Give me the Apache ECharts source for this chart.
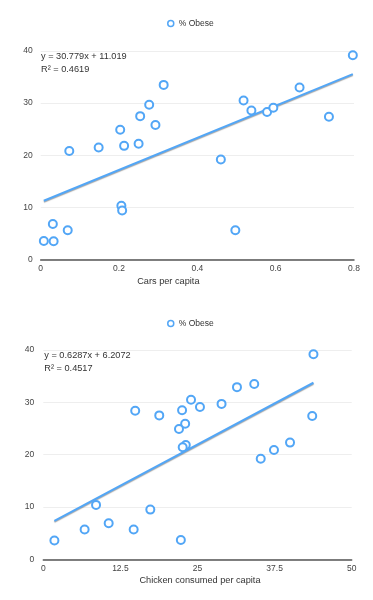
<!DOCTYPE html>
<html>
<head>
<meta charset="utf-8">
<script src="https://cdn.jsdelivr.net/npm/echarts@6/dist/echarts.min.js"></script>
<style>
html,body{margin:0;padding:0;background:#fff;}
#chart{width:373px;height:600px;}
</style>
</head>
<body>
<div id="chart"></div>
<script>
// ---- Data ----
var seriesName = '% Obese';
var carsPerCapita = [0.797,0.314,0.518,0.538,0.578,0.594,0.661,0.736,0.277,0.254,0.293,0.203,0.213,0.250,0.148,0.073,0.460,0.206,0.208,0.031,0.069,0.008,0.033,0.497];
var obeseCars =     [39.2, 33.5, 30.5, 28.6, 28.3, 29.1, 33.0, 27.4, 29.7, 27.5, 25.8, 24.9, 21.8, 22.2, 21.5, 20.8, 19.2, 10.3, 9.4, 6.8, 5.6, 3.55, 3.5, 5.6];
var chickenPerCapita = [43.8,34.2,31.4,28.9,25.4,23.95,22.5,23.0,22.0,14.9,18.8,43.6,40.0,37.4,35.25,23.1,22.6,8.55,17.35,10.6,6.7,14.65,1.8,22.3];
var obeseChicken =     [39.2,33.5,32.9,29.7,29.1,30.5,28.5,25.9,24.9,28.4,27.5,27.4,22.3,20.9,19.2,21.85,21.4,10.4,9.5,6.9,5.7,5.7,3.6,3.7];
var trendCars = [[0.008, 11.27], [0.797, 35.55]];
var trendChicken = [[1.8, 7.34], [43.8, 33.74]];
var eqCars = ['y = 30.779x + 11.019', 'R\u00b2 = 0.4619'];
var eqChicken = ['y = 0.6287x + 6.2072', 'R\u00b2 = 0.4517'];
var xNameCars = 'Cars per capita';
var xNameChicken = 'Chicken consumed per capita';
var yTicks = {min: 0, max: 40, interval: 10};
var xTicksCars = {min: 0, max: 0.8, interval: 0.2};
var xTicksChicken = {min: 0, max: 50, interval: 12.5};

function zip(a, b) { return a.map(function (v, i) { return [v, b[i]]; }); }

var blue = '#52a6f6';
var font = 'Liberation Sans, Arial, sans-serif';

function xAxis(idx, t, name, pad) {
  return {
    type: 'value', gridIndex: idx, min: t.min, max: t.max, interval: t.interval,
    name: name, nameLocation: 'middle', nameGap: 17,
    nameTextStyle: {fontSize: 9.2, color: '#333', fontFamily: font, padding: pad},
    axisLine: {show: true, lineStyle: {color: '#555', width: 1.5}},
    axisTick: {show: false},
    splitLine: {show: false},
    axisLabel: {fontSize: 8.5, color: '#444', fontFamily: font, margin: 5,
      formatter: function (v) { return String(v); }}
  };
}
function yAxis(idx, margin) {
  return {
    type: 'value', gridIndex: idx, min: yTicks.min, max: yTicks.max, interval: yTicks.interval,
    axisLine: {show: false}, axisTick: {show: false},
    splitLine: {show: true, lineStyle: {color: '#eeeeee', width: 1}},
    axisLabel: {fontSize: 8.5, color: '#444', fontFamily: font, margin: margin}
  };
}
function scatter(idx, data) {
  return {
    name: seriesName, type: 'scatter', xAxisIndex: idx, yAxisIndex: idx,
    data: data, symbol: 'circle', symbolSize: 8,
    itemStyle: {color: '#fff', borderColor: blue, borderWidth: 2, opacity: 1},
    z: 3
  };
}
function trend(idx, data) {
  return {
    name: 'trend' + idx, type: 'line', xAxisIndex: idx, yAxisIndex: idx,
    data: data, showSymbol: false, symbol: 'none', silent: true,
    lineStyle: {color: blue, width: 2, shadowColor: 'rgba(0,0,0,0.35)', shadowBlur: 1, shadowOffsetY: 1},
    z: 2
  };
}
function legend(top) {
  return {
    top: top, left: 167, padding: 0, data: [seriesName], icon: 'circle',
    itemWidth: 6, itemHeight: 6,
    itemStyle: {color: '#fff', borderColor: blue, borderWidth: 1.5},
    textStyle: {fontSize: 8.5, color: '#333', fontFamily: font},
    selectedMode: false
  };
}
function eqText(x, y, lines) {
  return lines.map(function (s, i) {
    return {type: 'text', left: x, top: y + i * 12.7,
      style: {text: s, fontSize: 9.2, fill: '#333', fontFamily: font}};
  });
}

var chart = echarts.init(document.getElementById('chart'), null, {renderer: 'canvas'});
chart.setOption({
  animation: false,
  backgroundColor: '#fff',
  legend: [legend(19), legend(319)],
  grid: [
    {left: 40.7, right: 19, top: 51, height: 208.5},
    {left: 43.3, right: 21.3, top: 350, height: 209.3}
  ],
  xAxis: [xAxis(0, xTicksCars, xNameCars, [0, 58, 0, 0]), xAxis(1, xTicksChicken, xNameChicken, [0, 0, 0, 5])],
  yAxis: [yAxis(0, 8), yAxis(1, 9)],
  series: [
    trend(0, trendCars), scatter(0, zip(carsPerCapita, obeseCars)),
    trend(1, trendChicken), scatter(1, zip(chickenPerCapita, obeseChicken))
  ],
  graphic: eqText(41, 52, eqCars).concat(eqText(44.3, 351, eqChicken))
});
</script>
</body>
</html>
